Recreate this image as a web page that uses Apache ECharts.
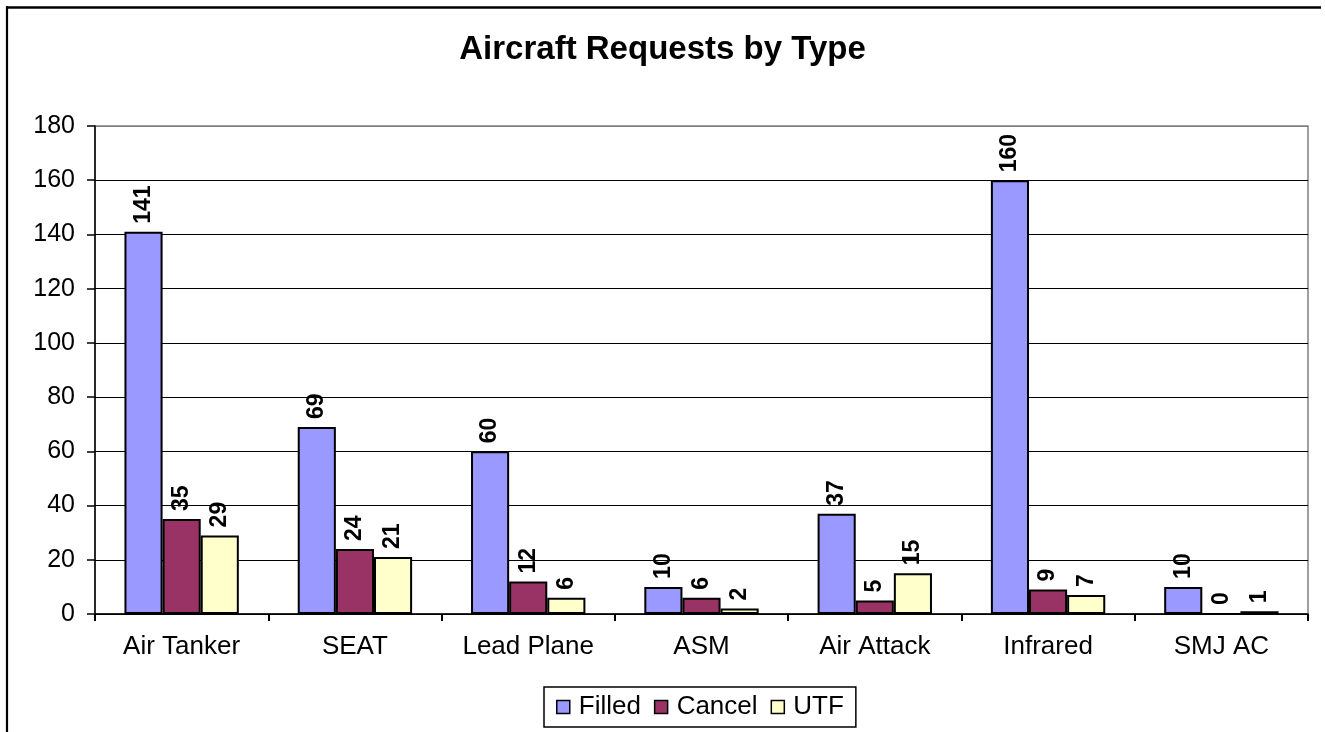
<!DOCTYPE html>
<html>
<head>
<meta charset="utf-8">
<title>Aircraft Requests by Type</title>
<script src="https://cdn.jsdelivr.net/npm/echarts@6/dist/echarts.min.js"></script>
<style>
  html, body { margin: 0; padding: 0; background: #fff; }
  #chart { width: 1325px; height: 732px; }
</style>
</head>
<body>
<div id="chart"></div>
<script>
// Aircraft request counts per aircraft type
const categories = ['Air Tanker', 'SEAT', 'Lead Plane', 'ASM', 'Air Attack', 'Infrared', 'SMJ AC'];
const filled = [141, 69, 60, 10, 37, 160, 10];
const cancel = [35, 24, 12, 6, 5, 9, 0];
const utf = [29, 21, 6, 2, 15, 7, 1];
const yTicks = { min: 0, max: 180, interval: 20 };

const FONT = '"Liberation Sans", Arial, Helvetica, sans-serif';

const chart = echarts.init(document.getElementById('chart'));

// every horizontal gridline is black except the top edge of the plot area
const tickCount = (yTicks.max - yTicks.min) / yTicks.interval + 1;
const gridColors = [];
for (let i = 0; i < tickCount; i++) gridColors.push(i === tickCount - 1 ? '#808080' : '#000000');

const barLabel = {
  show: true,
  position: 'top',
  rotate: 90,
  align: 'left',
  verticalAlign: 'middle',
  distance: 8,
  color: '#000',
  fontFamily: FONT,
  fontWeight: 'bold',
  fontSize: 23
};

function barSeries(name, data, color) {
  return {
    name: name,
    type: 'bar',
    data: data,
    barGap: '0%',
    barCategoryGap: '34%',
    itemStyle: { color: color, borderColor: '#000', borderWidth: 2 },
    label: barLabel
  };
}

chart.setOption({
  animation: false,
  backgroundColor: '#ffffff',
  title: {
    text: 'Aircraft Requests by Type',
    left: 'center',
    top: 28,
    textStyle: { fontFamily: FONT, fontWeight: 'bold', fontSize: 33, color: '#000' }
  },
  legend: {
    left: 544,
    top: 687,
    padding: [7, 12],
    itemGap: 13,
    itemWidth: 13,
    itemHeight: 13,
    icon: 'rect',
    borderColor: '#000',
    borderWidth: 1.5,
    itemStyle: { borderColor: '#000', borderWidth: 1.5 },
    textStyle: { fontFamily: FONT, fontSize: 26, color: '#000', padding: [0, 0, 0, 4] },
    data: ['Filled', 'Cancel', 'UTF']
  },
  grid: {
    left: 95,
    right: 17,
    top: 126,
    bottom: 118,
    show: true,
    borderColor: '#808080',
    borderWidth: 1.5,
    containLabel: false
  },
  xAxis: {
    type: 'category',
    data: categories,
    boundaryGap: true,
    axisLine: { show: true, lineStyle: { color: '#000', width: 1.5 } },
    axisTick: { show: true, length: 7, lineStyle: { color: '#000', width: 2 } },
    axisLabel: { margin: 20, fontFamily: FONT, fontSize: 26, color: '#000' },
    splitLine: { show: false }
  },
  yAxis: {
    type: 'value',
    min: yTicks.min,
    max: yTicks.max,
    interval: yTicks.interval,
    axisLine: { show: true, lineStyle: { color: '#000', width: 1.5 } },
    axisTick: { show: true, length: 8, lineStyle: { color: '#000', width: 1.5 } },
    axisLabel: { margin: 20, fontFamily: FONT, fontSize: 25, color: '#000' },
    splitLine: { show: true, lineStyle: { color: gridColors, width: 1.2 } }
  },
  series: [
    barSeries('Filled', filled, '#9999FF'),
    barSeries('Cancel', cancel, '#993366'),
    barSeries('UTF', utf, '#FFFFCC')
  ],
  graphic: [
    // outer chart frame (top and left edges)
    { type: 'line', shape: { x1: 6, y1: 7.5, x2: 1321, y2: 7.5 }, style: { stroke: '#000', lineWidth: 2.5 }, silent: true },
    { type: 'line', shape: { x1: 7, y1: 6, x2: 7, y2: 732 }, style: { stroke: '#000', lineWidth: 2.2 }, silent: true }
  ]
});
</script>
</body>
</html>
